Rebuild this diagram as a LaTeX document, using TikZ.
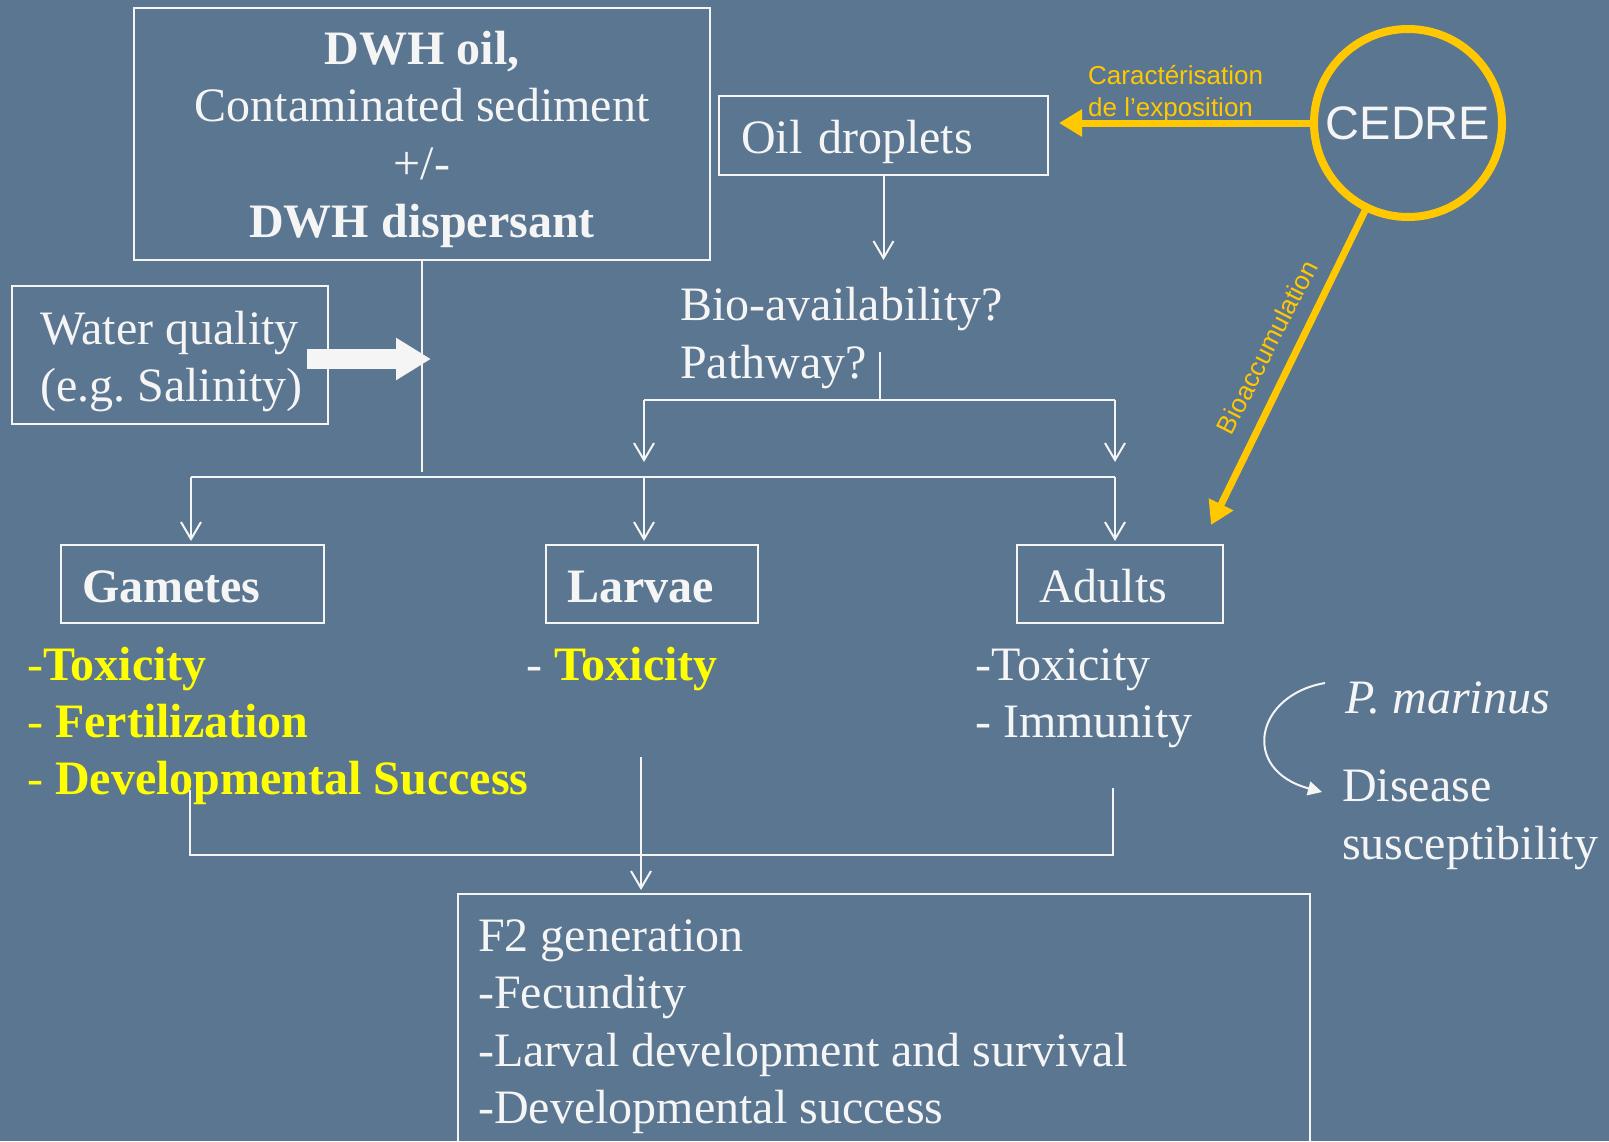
\documentclass[tikz,border=0pt]{standalone}
\usepackage{fontspec}
\setmainfont{Liberation Serif}
\newfontfamily\arialf{Liberation Sans}
\usetikzlibrary{arrows.meta}
\definecolor{bg}{RGB}{91,118,145}
\definecolor{fg}{RGB}{245,245,245}
\definecolor{gold}{RGB}{255,200,0}
\definecolor{yel}{RGB}{255,255,0}
\frenchspacing
\begin{document}
\begin{tikzpicture}[x=1pt,y=-1pt,
  mainf/.style={font=\fontsize{48}{57.5}\selectfont, text=fg},
  frame/.style={draw=fg, line width=2pt, inner sep=0pt},
  onebox/.style={frame, mainf, inner xsep=21pt, align=left, minimum height=78pt, text height=36pt, text depth=0pt},
  txt/.style={mainf, inner sep=0pt, anchor=base west},
  ctxt/.style={mainf, inner sep=0pt, anchor=base},
  ln/.style={draw=fg, line width=2pt},
  arr/.style={draw=fg, line width=2pt, shorten >=3pt, -{Straight Barb[length=17pt,width=20pt]}},
  yarr/.style={draw=gold, line width=7pt, -{Triangle[length=23pt,width=26pt]}},
  lbl/.style={font=\arialf\fontsize{26}{32}\selectfont, text=gold, inner sep=0pt}
]
\fill[bg] (0,0) rectangle (1609,1141);
\useasboundingbox (0,0) rectangle (1609,1141);
\clip (0,0) rectangle (1609,1141);

% boxes
\node[frame, minimum width=576pt, minimum height=252pt] (top) at (422,134) {};
\node[frame, minimum width=316pt, minimum height=138pt] (water) at (170,355) {};
\node[frame, minimum width=852pt, minimum height=266pt] (f2) at (884,1027) {};
\node[onebox, inner xsep=22pt, text width=285pt, minimum height=79pt, text height=35pt] (oil) at (883.5,135.5) {Oil droplets};
\node[onebox, text width=221pt] (gam) at (192.5,584) {\textbf{Gametes}};
\node[onebox, text width=170pt] (lar) at (652,584) {\textbf{Larvae}};
\node[onebox, inner xsep=22pt, text width=162pt] (adu) at (1120,584) {Adults};

% connectors (white)
\coordinate (tv) at (422,472);
\draw[ln] (top.south) -- (tv);
\coordinate (h1) at (191,477);
\coordinate (h2) at (644,477);
\coordinate (h3) at (1115,477);
\draw[ln] (h1) -- (h3);
\draw[arr] (h1) -- (h1 |- gam.north);
\draw[arr] (h2) -- (h2 |- lar.north);
\draw[arr] (h3) -- (h3 |- adu.north);

\coordinate (oe) at (883.5,263);
\draw[arr] (oil.south) -- (oe);

\coordinate (pw) at (880,352);
\coordinate (pj) at (880,400);
\coordinate (b1) at (644,400);
\coordinate (b2) at (1115,400);
\coordinate (b1e) at (644,465);
\coordinate (b2e) at (1115,465);
\draw[ln] (pw) -- (pj);
\draw[ln] (b1) -- (b2);
\draw[arr] (b1) -- (b1e);
\draw[arr] (b2) -- (b2e);

\coordinate (q1) at (190,790);
\coordinate (q2) at (190,855);
\coordinate (q3) at (1113,855);
\coordinate (q4) at (1113,788);
\draw[ln] (q1) -- (q2) -- (q3) -- (q4);
\coordinate (m1) at (641,757);
\draw[arr] (m1) -- (m1 |- f2.north);

% water quality block arrow
\coordinate (wa) at (307,359);
\coordinate (wb) at (431,359);
\draw[draw=fg, line width=20pt, -{Triangle[length=35pt,width=40pt]}] (wa) -- (wb);

% P. marinus curved arrow
\coordinate (c1) at (1325,683);
\coordinate (c2) at (1322,792);
\draw[draw=fg, line width=2pt, -{Triangle[length=14pt,width=14pt]}] (c1) .. controls (1255,695) and (1240,770) .. (c2);

% CEDRE
\node[circle, draw=gold, line width=8pt, minimum size=188pt, inner sep=0pt,
      font=\arialf\fontsize{47}{47}\selectfont, text=fg] (cedre) at (1408,123) {CEDRE};
\coordinate (car) at (1059,123);
\draw[yarr] (cedre.west) -- (car);
\coordinate (bt) at (1211,525);
\draw[yarr] (cedre) -- (bt);
\node[lbl, anchor=base west] (car1) at (1088,84) {Caractérisation};
\node[lbl, anchor=base west] (car2) at (1088,116) {de l’exposition};
\node[lbl, rotate=63] (bioacc) at (1267,347) {Bioaccumulation};

% texts
\node[ctxt] (t1) at (422,64) {\textbf{DWH oil,}};
\node[ctxt] (t2) at (422,121.5) {Contaminated sediment};
\node[ctxt] (t3) at (422,179) {+/-};
\node[ctxt] (t4) at (422,237) {\textbf{DWH dispersant}};

\node[txt] (bio1) at (680,320.5) {Bio-availability?};
\node[txt] (bio2) at (680,378) {Pathway?};

\node[txt] (w1) at (40,344) {Water quality};
\node[txt] (w2) at (40,401) {(e.g. Salinity)};

\node[txt, text=yel] (g1) at (27,680) {-\textbf{Toxicity}};
\node[txt, text=yel] (g2) at (27,737) {- \textbf{Fertilization}};
\node[txt, text=yel] (g3) at (27,794) {- \textbf{Developmental Success}};

\node[txt] (l1) at (526,680) {- \textcolor{yel}{\textbf{Toxicity}}};

\node[txt] (a1) at (975,680) {-Toxicity};
\node[txt] (a2) at (975,737) {- Immunity};

\node[txt] (pm) at (1345,713) {\textit{P. marinus}};
\node[txt] (d1) at (1342,801) {Disease};
\node[txt] (d2) at (1342,859) {susceptibility};

\node[txt] (f2a) at (478,951) {F2 generation};
\node[txt] (f2b) at (478,1008.5) {-Fecundity};
\node[txt] (f2c) at (478,1066) {-Larval development and survival};
\node[txt] (f2d) at (478,1123.5) {-Developmental success};
\end{tikzpicture}
\end{document}
